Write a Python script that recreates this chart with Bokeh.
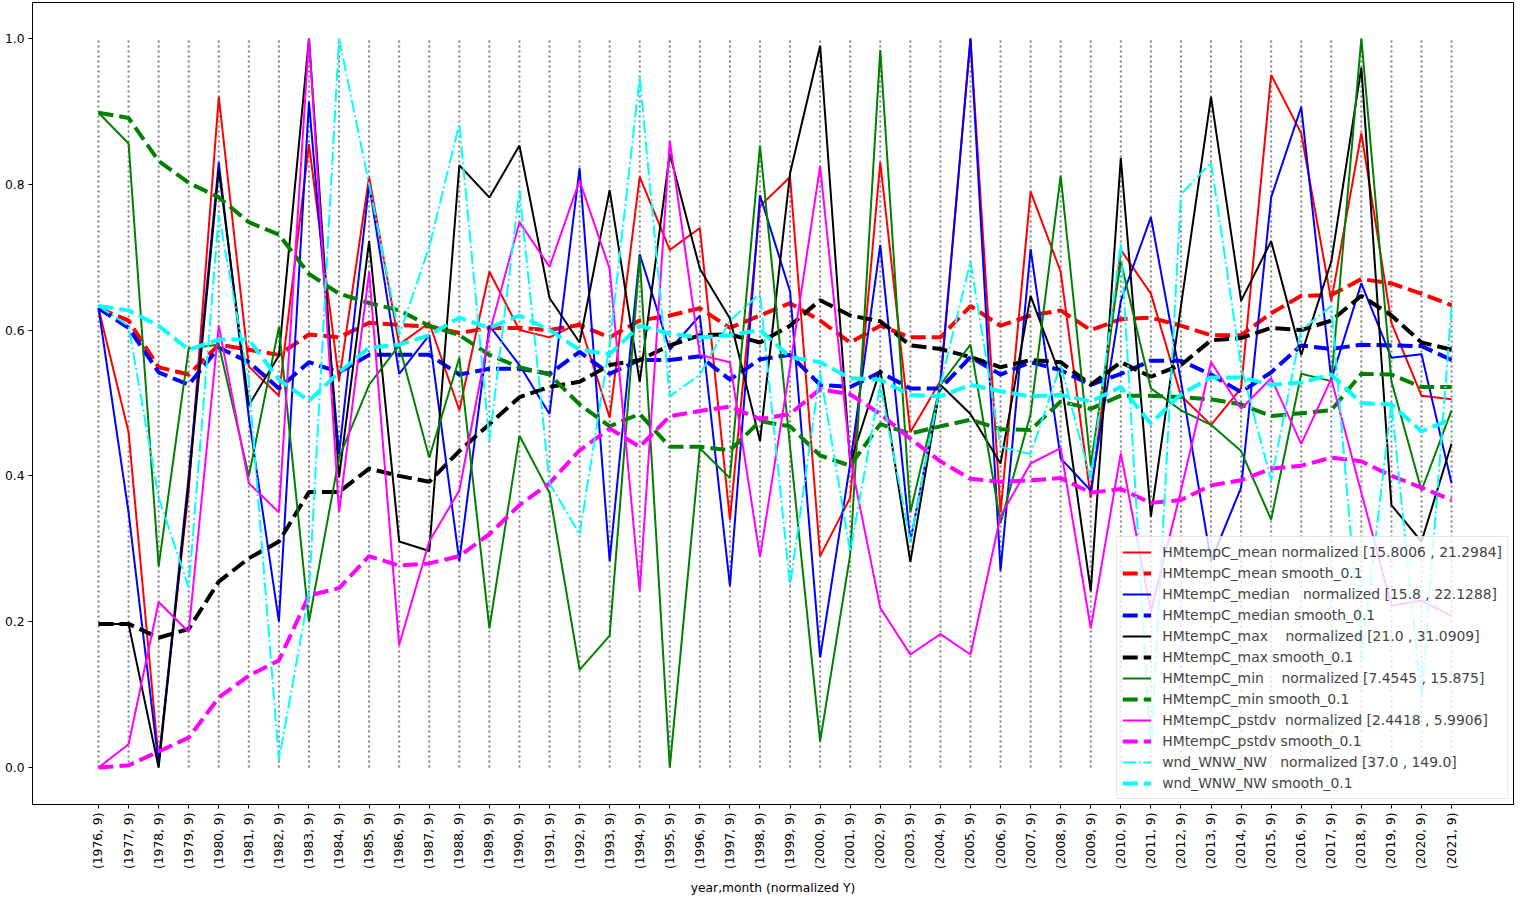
import math
from bokeh.plotting import figure
from bokeh.models import FixedTicker, Range1d, Legend, LegendItem, NumeralTickFormatter
from bokeh.embed import file_html
from bokeh.resources import INLINE

years = list(range(1976, 2022))
month = 9
tick_labels = [f"({y}, {month})" for y in years]

mean = [0.63, 0.46, 0.01, 0.38, 0.92, 0.55, 0.51, 0.855, 0.53, 0.81,
        0.58, 0.61, 0.49, 0.68, 0.60, 0.59, 0.61, 0.48, 0.81, 0.71,
        0.74, 0.34, 0.77, 0.81, 0.29, 0.37, 0.83, 0.46, 0.53, 1.0,
        0.35, 0.79, 0.68, 0.37, 0.71, 0.65, 0.51, 0.47, 0.52, 0.95,
        0.87, 0.64, 0.87, 0.61, 0.51, 0.505]
mean_smooth = [0.63, 0.613, 0.549, 0.539, 0.58, 0.573, 0.566, 0.594, 0.59, 0.61,
               0.607, 0.605, 0.596, 0.603, 0.603, 0.60, 0.607, 0.59, 0.613, 0.62,
               0.63, 0.603, 0.62, 0.637, 0.613, 0.583, 0.606, 0.59, 0.59, 0.633,
               0.606, 0.62, 0.627, 0.60, 0.615, 0.617, 0.606, 0.593, 0.593, 0.623,
               0.647, 0.648, 0.67, 0.664, 0.65, 0.634]
median = [0.63, 0.35, 0.005, 0.40, 0.83, 0.48, 0.20, 0.913, 0.43, 0.80,
          0.54, 0.593, 0.283, 0.606, 0.552, 0.485, 0.822, 0.283, 0.704, 0.573,
          0.62, 0.249, 0.785, 0.653, 0.151, 0.417, 0.717, 0.31, 0.525, 1.0,
          0.27, 0.711, 0.424, 0.38, 0.64, 0.755, 0.53, 0.283, 0.384, 0.782,
          0.906, 0.532, 0.664, 0.562, 0.567, 0.39]
median_smooth = [0.63, 0.603, 0.542, 0.525, 0.576, 0.556, 0.52, 0.556, 0.542, 0.566,
                 0.566, 0.566, 0.539, 0.547, 0.547, 0.54, 0.57, 0.54, 0.559, 0.559,
                 0.564, 0.532, 0.56, 0.566, 0.525, 0.522, 0.542, 0.52, 0.52, 0.563,
                 0.539, 0.556, 0.545, 0.525, 0.54, 0.558, 0.558, 0.539, 0.515, 0.542,
                 0.579, 0.574, 0.58, 0.579, 0.578, 0.559]
tmax = [0.197, 0.197, 0.0, 0.39, 0.82, 0.497, 0.565, 1.0, 0.398, 0.722,
        0.31, 0.297, 0.826, 0.782, 0.853, 0.644, 0.583, 0.792, 0.529, 0.842,
        0.684, 0.616, 0.448, 0.815, 0.99, 0.417, 0.546, 0.282, 0.525, 0.485,
        0.417, 0.647, 0.536, 0.242, 0.836, 0.344, 0.633, 0.92, 0.64, 0.722,
        0.566, 0.694, 0.96, 0.36, 0.31, 0.444]
tmax_smooth = [0.197, 0.197, 0.178, 0.19, 0.255, 0.287, 0.31, 0.378, 0.378, 0.41,
               0.40, 0.392, 0.434, 0.471, 0.508, 0.522, 0.529, 0.552, 0.559, 0.579,
               0.593, 0.594, 0.583, 0.606, 0.641, 0.62, 0.612, 0.579, 0.574, 0.563,
               0.549, 0.559, 0.556, 0.525, 0.556, 0.536, 0.552, 0.586, 0.589, 0.603,
               0.6, 0.613, 0.647, 0.62, 0.583, 0.573]
tmin = [0.898, 0.856, 0.276, 0.575, 0.58, 0.40, 0.604, 0.20, 0.425, 0.525,
        0.579, 0.425, 0.562, 0.191, 0.455, 0.377, 0.134, 0.181, 0.701, 0.0,
        0.438, 0.397, 0.853, 0.44, 0.036, 0.292, 0.984, 0.35, 0.525, 0.58,
        0.335, 0.485, 0.812, 0.414, 0.694, 0.52, 0.49, 0.47, 0.434, 0.34,
        0.54, 0.53, 1.0, 0.53, 0.38, 0.49]
tmin_smooth = [0.898, 0.891, 0.832, 0.802, 0.782, 0.748, 0.731, 0.677, 0.65, 0.637,
               0.627, 0.606, 0.593, 0.566, 0.549, 0.539, 0.498, 0.468, 0.485, 0.44,
               0.44, 0.435, 0.475, 0.468, 0.428, 0.414, 0.471, 0.458, 0.468, 0.477,
               0.464, 0.463, 0.502, 0.492, 0.51, 0.51, 0.508, 0.505, 0.498, 0.482,
               0.486, 0.49, 0.54, 0.539, 0.522, 0.522]
pstdv = [0.0, 0.032, 0.227, 0.186, 0.606, 0.39, 0.35, 1.0, 0.35, 0.68,
         0.168, 0.31, 0.38, 0.596, 0.748, 0.687, 0.805, 0.684, 0.242, 0.86,
         0.566, 0.556, 0.289, 0.55, 0.825, 0.424, 0.219, 0.155, 0.183, 0.155,
         0.345, 0.417, 0.438, 0.191, 0.431, 0.214, 0.38, 0.556, 0.492, 0.534,
         0.444, 0.533, 0.377, 0.222, 0.229, 0.208]
pstdv_smooth = [0.0, 0.003, 0.022, 0.041, 0.096, 0.126, 0.147, 0.236, 0.246, 0.29,
                0.277, 0.28, 0.29, 0.32, 0.36, 0.39, 0.435, 0.465, 0.44, 0.482,
                0.489, 0.495, 0.478, 0.485, 0.519, 0.512, 0.485, 0.451, 0.42, 0.396,
                0.392, 0.394, 0.397, 0.377, 0.382, 0.363, 0.367, 0.387, 0.394, 0.41,
                0.414, 0.425, 0.42, 0.40, 0.384, 0.367]
wind = [0.633, 0.606, 0.37, 0.247, 0.758, 0.53, 0.01, 0.24, 1.0, 0.80,
        0.593, 0.714, 0.883, 0.448, 0.792, 0.39, 0.32, 0.58, 0.947, 0.509,
        0.539, 0.613, 0.65, 0.25, 0.542, 0.296, 0.525, 0.31, 0.525, 0.694,
        0.44, 0.43, 0.552, 0.395, 0.72, 0.02, 0.786, 0.83, 0.55, 0.394,
        0.6, 0.633, 0.148, 0.5, 0.094, 0.633]
wind_smooth = [0.633, 0.627, 0.606, 0.573, 0.587, 0.587, 0.532, 0.503, 0.542, 0.576,
               0.58, 0.593, 0.617, 0.603, 0.62, 0.60, 0.573, 0.567, 0.606, 0.595,
               0.59, 0.593, 0.60, 0.563, 0.556, 0.534, 0.532, 0.511, 0.509, 0.525,
               0.516, 0.509, 0.511, 0.502, 0.522, 0.472, 0.512, 0.535, 0.535, 0.525,
               0.528, 0.539, 0.50, 0.498, 0.461, 0.478]

labels = [
    "HMtempC_mean normalized [15.8006 , 21.2984]",
    "HMtempC_mean smooth_0.1",
    "HMtempC_median\u00a0\u00a0 normalized [15.8 , 22.1288]",
    "HMtempC_median smooth_0.1",
    "HMtempC_max\u00a0\u00a0\u00a0 normalized [21.0 , 31.0909]",
    "HMtempC_max smooth_0.1",
    "HMtempC_min\u00a0\u00a0\u00a0 normalized [7.4545 , 15.875]",
    "HMtempC_min smooth_0.1",
    "HMtempC_pstdv\u00a0 normalized [2.4418 , 5.9906]",
    "HMtempC_pstdv smooth_0.1",
    "wnd_WNW_NW\u00a0\u00a0 normalized [37.0 , 149.0]",
    "wnd_WNW_NW smooth_0.1",
]

series = [mean, mean_smooth, median, median_smooth, tmax, tmax_smooth,
          tmin, tmin_smooth, pstdv, pstdv_smooth, wind, wind_smooth]
colors = ["#ff0000", "#ff0000", "#0000ff", "#0000ff", "#000000", "#000000",
          "#008000", "#008000", "#ff00ff", "#ff00ff", "#00ffff", "#00ffff"]

x = list(range(len(years)))

p = figure(width=1514, height=898, output_backend="svg", toolbar_location=None,
           x_range=Range1d(-2.195, 47.06), y_range=Range1d(-0.0507, 1.0493),
           min_border_left=32, min_border_right=1, min_border_top=2, min_border_bottom=93)
p.xgrid.visible = False
p.ygrid.visible = False
p.outline_line_color = "black"
p.outline_line_width = 1
p.outline_line_alpha = 1
p.background_fill_color = "white"
p.border_fill_color = "white"

# vertical dotted lines at each tick
p.segment(x0=x, y0=[0] * len(x), x1=x, y1=[1] * len(x),
          line_color="#7f7f7f", line_dash="2 3", line_width=2)

items = []
for i, (vals, col, lab) in enumerate(zip(series, colors, labels)):
    smooth = (i % 2 == 1)
    if smooth:
        r = p.line(x, vals, line_color=col, line_width=4, line_dash="15 6")
    elif i == 10:
        r = p.line(x, vals, line_color=col, line_width=2, line_dash="13 3 2 3")
    else:
        r = p.line(x, vals, line_color=col, line_width=2)
    items.append(LegendItem(label=lab, renderers=[r]))

legend = Legend(items=items, location="bottom_right")
legend.background_fill_alpha = 0.8
legend.border_line_color = "#cccccc"
legend.border_line_width = 1
legend.label_text_font = "DejaVu Sans"
legend.label_text_font_size = "13.9px"
legend.glyph_width = 29
legend.glyph_height = 20
legend.label_height = 20
legend.spacing = 1
legend.padding = 5
legend.margin = 5
legend.label_standoff = 11
p.add_layout(legend)

p.yaxis.ticker = FixedTicker(ticks=[0.0, 0.2, 0.4, 0.6, 0.8, 1.0])
p.yaxis.formatter = NumeralTickFormatter(format="0.0")
p.xaxis.ticker = FixedTicker(ticks=x)
p.xaxis.major_label_overrides = {i: lab for i, lab in enumerate(tick_labels)}
p.xaxis.major_label_orientation = math.pi / 2
for ax in (p.xaxis, p.yaxis):
    ax.major_label_text_font = "DejaVu Sans"
    ax.major_label_text_font_size = "12.3px"
    ax.major_label_text_color = "black"
    ax.major_tick_out = 4
    ax.major_tick_in = 0
    ax.major_tick_line_color = "black"
    ax.minor_tick_line_color = None
    ax.axis_line_color = "black"
    ax.major_label_standoff = 4
p.xaxis.axis_label = "year,month (normalized Y)"
p.xaxis.axis_label_text_font = "DejaVu Sans"
p.xaxis.axis_label_text_font_size = "12.3px"
p.xaxis.axis_label_text_font_style = "normal"
p.xaxis.axis_label_text_color = "black"
p.xaxis.axis_label_standoff = 9

open("out.html", "w").write(file_html(p, INLINE))
